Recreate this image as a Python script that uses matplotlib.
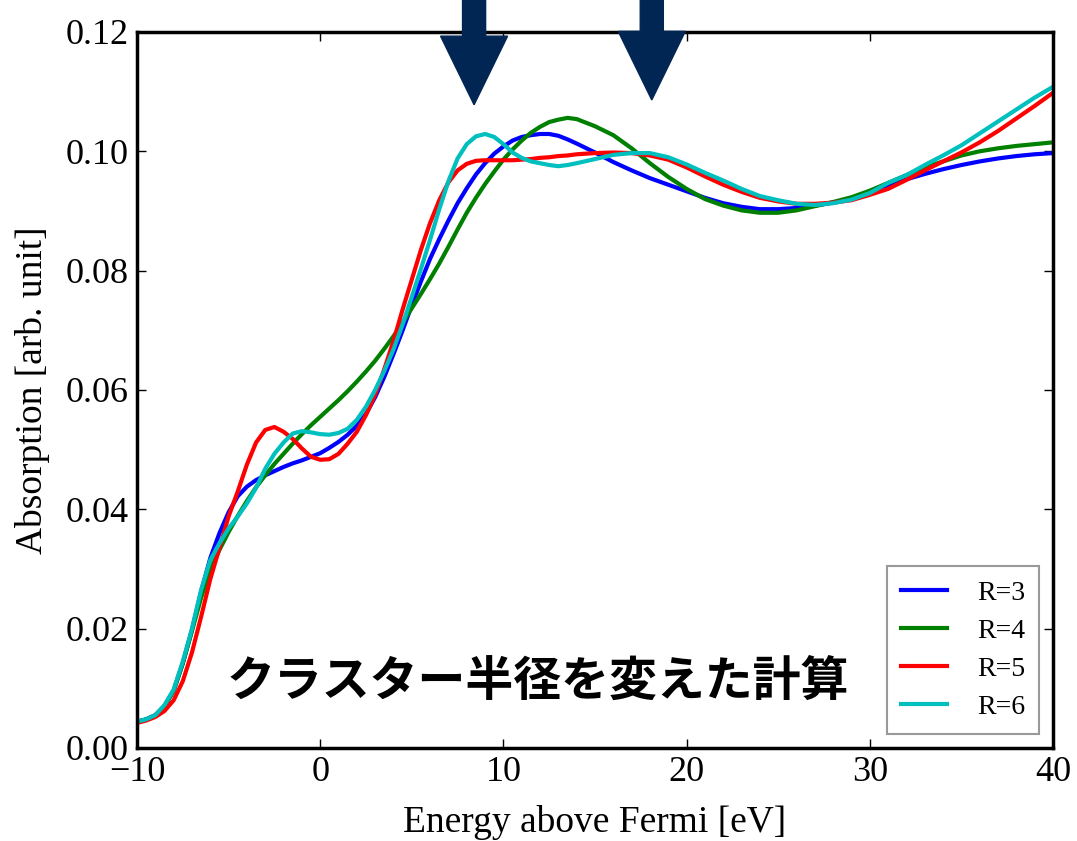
import numpy as np
import matplotlib
matplotlib.use("Agg")
import matplotlib.pyplot as plt
from matplotlib.patches import FancyArrow

plt.rcParams['font.family'] = 'serif'
plt.rcParams['font.serif'] = ['Liberation Serif', 'DejaVu Serif']

# energy grid [eV]: 0.5 eV steps up to 14, then 1 eV
energy = list(np.arange(-10, 14.5, 0.5)) + list(range(15, 41))

# absorption curves for each cluster radius
r3 = [0.0044, 0.0048, 0.0055, 0.0070, 0.0096, 0.0142, 0.0198, 0.0262, 0.0318, 0.0360,
      0.0395, 0.0422, 0.0438, 0.0449, 0.0457, 0.0464, 0.0471, 0.0477, 0.0482, 0.0488,
      0.0494, 0.0503, 0.0513, 0.0525, 0.0540, 0.0560, 0.0588, 0.0622, 0.0660, 0.0700,
      0.0742, 0.0782, 0.0820, 0.0853, 0.0884, 0.0913, 0.0938, 0.0961, 0.0980, 0.0996,
      0.1008, 0.1018, 0.1024, 0.1027, 0.1029, 0.1029, 0.1026, 0.1020, 0.1013,
      0.0998, 0.0982, 0.0968, 0.0955, 0.0944, 0.0933, 0.0922, 0.0913, 0.0907, 0.0903,
      0.0903, 0.0905, 0.0909, 0.0914, 0.0921, 0.0931, 0.0942, 0.0953, 0.0962, 0.0970,
      0.0977, 0.0983, 0.0988, 0.0992, 0.0995, 0.0997]
r4 = [0.0044, 0.0048, 0.0055, 0.0070, 0.0096, 0.0142, 0.0196, 0.0252, 0.0298, 0.0332,
      0.0362, 0.0389, 0.0414, 0.0437, 0.0457, 0.0476, 0.0493, 0.0510, 0.0526, 0.0541,
      0.0555, 0.0569, 0.0583, 0.0598, 0.0614, 0.0631, 0.0649, 0.0669, 0.0690, 0.0713,
      0.0737, 0.0761, 0.0786, 0.0812, 0.0840, 0.0869, 0.0897, 0.0922, 0.0945, 0.0966,
      0.0986, 0.1003, 0.1018, 0.1031, 0.1041, 0.1049, 0.1053, 0.1056, 0.1054,
      0.1042, 0.1027, 0.1005, 0.0980, 0.0957, 0.0937, 0.0920, 0.0909, 0.0901, 0.0897,
      0.0897, 0.0901, 0.0908, 0.0915, 0.0923, 0.0934, 0.0947, 0.0960, 0.0973, 0.0983,
      0.0993, 0.1000, 0.1005, 0.1009, 0.1012, 0.1015]
r5 = [0.0042, 0.0046, 0.0052, 0.0062, 0.0080, 0.0112, 0.0160, 0.0220, 0.0283, 0.0335,
      0.0388, 0.0430, 0.0475, 0.0512, 0.0533, 0.0538, 0.0530, 0.0518, 0.0502, 0.0488,
      0.0483, 0.0484, 0.0493, 0.0510, 0.0530, 0.0558, 0.0592, 0.0635, 0.0682, 0.0735,
      0.0785, 0.0835, 0.0880, 0.0918, 0.0948, 0.0968, 0.0979, 0.0984, 0.0985, 0.0985,
      0.0985, 0.0985, 0.0986, 0.0987, 0.0989, 0.0990, 0.0992, 0.0993, 0.0995,
      0.0997, 0.0998, 0.0997, 0.0993, 0.0986, 0.0973, 0.0958, 0.0944, 0.0932, 0.0922,
      0.0916, 0.0912, 0.0912, 0.0914, 0.0918, 0.0927, 0.0937, 0.0952, 0.0968, 0.0983,
      0.0998, 0.1015, 0.1034, 0.1055, 0.1076, 0.1098]
r6 = [0.0044, 0.0048, 0.0055, 0.0072, 0.0098, 0.0145, 0.0200, 0.0265, 0.0315, 0.0343,
      0.0368, 0.0388, 0.0410, 0.0436, 0.0468, 0.0493, 0.0512, 0.0527, 0.0531, 0.0529,
      0.0526, 0.0525, 0.0528, 0.0535, 0.0550, 0.0572, 0.0600, 0.0632, 0.0668, 0.0710,
      0.0756, 0.0803, 0.0852, 0.0903, 0.0950, 0.0988, 0.1012, 0.1025, 0.1029, 0.1024,
      0.1012, 0.0998, 0.0989, 0.0983, 0.0980, 0.0977, 0.0975, 0.0977, 0.0980,
      0.0987, 0.0994, 0.0997, 0.0997, 0.0990, 0.0978, 0.0964, 0.0951, 0.0937, 0.0925,
      0.0918, 0.0912, 0.0910, 0.0913, 0.0919, 0.0930, 0.0947, 0.0960, 0.0977, 0.0993,
      0.1010, 0.1030, 0.1050, 0.1070, 0.1090, 0.1108]

series = [(r3, 'b', 'R=3'), (r4, 'g', 'R=4'), (r5, 'r', 'R=5'), (r6, 'c', 'R=6')]

# arrows marking the peaks
arrow_x = [8.4, 18.1]
arrow_tip = [0.1078, 0.1086]

fig = plt.figure(figsize=(10.77, 8.41), dpi=100)
ax = fig.add_axes([0.1272, 0.1106, 0.8505, 0.8514])

for vals, col, lab in series:
    ax.plot(energy, vals, color=col, lw=3, label=lab)

ax.set_xlim(-10, 40)
ax.set_ylim(0, 0.12)
ax.set_xticks([-10, 0, 10, 20, 30, 40])
ax.set_yticks([0.00, 0.02, 0.04, 0.06, 0.08, 0.10, 0.12])
ax.yaxis.set_major_formatter(matplotlib.ticker.FormatStrFormatter('%.2f'))
ax.tick_params(direction='in', length=6.5, width=1, top=True, right=True,
               labelsize=26, pad=6)
for sp in ax.spines.values():
    sp.set_linewidth(2.5)

ax.set_xlabel('Energy above Fermi [eV]', fontsize=27, labelpad=11)
ax.set_ylabel('Absorption [arb. unit]', fontsize=27, labelpad=11)

leg = ax.legend(loc='lower right', fontsize=20, handlelength=1.65,
                handletextpad=1.1, labelspacing=0.46, fancybox=False,
                borderpad=0.5)
leg.get_frame().set_edgecolor('gray')
leg.get_frame().set_linewidth(1.5)

ax.text(11.9, 0.0112, 'クラスター半径を変えた計算', fontsize=34.5,
        family=['Noto Sans CJK JP', 'DejaVu Sans'], weight='bold',
        ha='center', va='center')

for xa, tip in zip(arrow_x, arrow_tip):
    top = 0.128
    ax.add_patch(FancyArrow(xa, top, 0, tip - top, width=1.26, head_width=3.66,
                            head_length=0.0115, length_includes_head=True,
                            color='#022653', clip_on=False, zorder=5))

fig.savefig('out.png', dpi=100)
